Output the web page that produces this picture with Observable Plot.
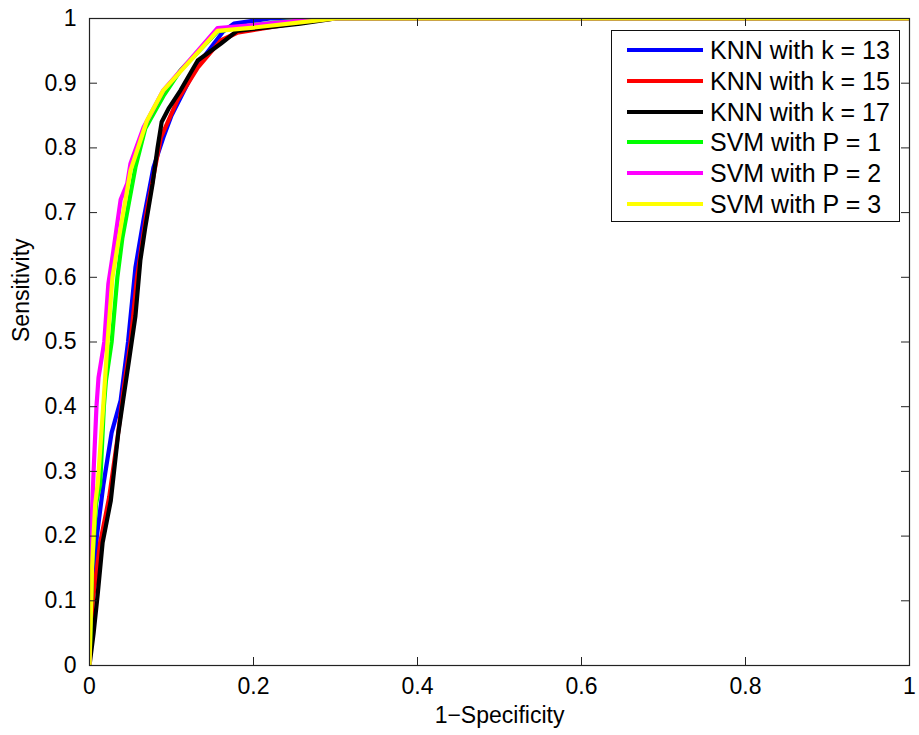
<!DOCTYPE html>
<html>
<head>
<meta charset="utf-8">
<script src="https://cdn.jsdelivr.net/npm/d3@7"></script>
<script src="https://cdn.jsdelivr.net/npm/@observablehq/plot@0.6"></script>
<style>
  html, body { margin: 0; padding: 0; background: #fff; }
  #wrap { position: relative; width: 919px; height: 735px; font-family: "Liberation Sans", Helvetica, Arial, sans-serif; }
  #legend { position: absolute; left: 611px; top: 30px; width: 289px; height: 192px; box-sizing: border-box;
            border: 1px solid #111; background: #fff; }
  .row { position: absolute; left: 0; height: 30px; width: 100%; }
  .swatch { position: absolute; left: 15px; width: 76px; height: 4px; }
  .lbl { position: absolute; left: 98px; font-size: 25px; line-height: 30px; top: 0; color: #000; white-space: nowrap; }
</style>
</head>
<body>
<div id="wrap"><div id="legend"></div></div>
<script>
const seriesNames = ["KNN with k = 13", "KNN with k = 15", "KNN with k = 17", "SVM with P = 1", "SVM with P = 2", "SVM with P = 3"];
const seriesColors = ["#0000ff", "#ff0000", "#000000", "#00ff00", "#ff00ff", "#ffff00"];
const xTicks = [0, 0.2, 0.4, 0.6, 0.8, 1];
const yTicks = [0, 0.1, 0.2, 0.3, 0.4, 0.5, 0.6, 0.7, 0.8, 0.9, 1];

// ROC curves: [1-specificity, sensitivity]
const knn13 = [[0,0],[0.003,0.1],[0.009,0.2],[0.017,0.28],[0.027,0.36],[0.038,0.41],[0.047,0.5],[0.056,0.615],[0.066,0.69],[0.078,0.77],[0.09,0.816],[0.1,0.85],[0.13,0.925],[0.163,0.98],[0.176,0.992],[0.22,1],[1,1]];
const knn15 = [[0,0],[0.004,0.1],[0.013,0.19],[0.024,0.26],[0.034,0.35],[0.042,0.43],[0.05,0.5],[0.058,0.6],[0.07,0.703],[0.087,0.816],[0.107,0.873],[0.132,0.924],[0.16,0.966],[0.18,0.978],[0.257,0.994],[0.3,1],[1,1]];
const knn17 = [[0,0],[0.005,0.05],[0.01,0.11],[0.016,0.19],[0.026,0.255],[0.035,0.358],[0.041,0.41],[0.048,0.47],[0.056,0.54],[0.062,0.626],[0.068,0.677],[0.077,0.745],[0.083,0.8],[0.088,0.84],[0.097,0.862],[0.111,0.889],[0.132,0.935],[0.16,0.961],[0.18,0.981],[0.257,0.992],[0.3,1],[1,1]];
const svm1 = [[0,0],[0.003,0.15],[0.008,0.25],[0.013,0.28],[0.0175,0.4],[0.02,0.44],[0.027,0.5],[0.034,0.6],[0.04,0.66],[0.056,0.77],[0.068,0.83],[0.09,0.88],[0.111,0.92],[0.13,0.945],[0.156,0.98],[0.2,0.99],[0.26,0.998],[0.3,1],[1,1]];
const svm2 = [[0,0],[0.002,0.2],[0.005,0.3],[0.0085,0.4],[0.011,0.445],[0.018,0.5],[0.023,0.59],[0.029,0.64],[0.038,0.72],[0.046,0.745],[0.05,0.776],[0.066,0.832],[0.09,0.889],[0.123,0.937],[0.156,0.985],[0.2,0.99],[0.26,0.997],[0.3,1],[1,1]];
const svm3 = [[0,0],[0.003,0.15],[0.007,0.25],[0.01,0.28],[0.0167,0.4],[0.022,0.5],[0.028,0.6],[0.038,0.677],[0.05,0.765],[0.07,0.842],[0.09,0.889],[0.123,0.935],[0.156,0.981],[0.2,0.986],[0.257,0.994],[0.3,1],[1,1]];

const curves = [knn13, knn15, knn17, svm1, svm2, svm3];
const table = curves.flatMap((c, i) => c.map(([x, y]) => ({series: seriesNames[i], x, y})));

const W = 919, H = 735, mL = 89, mR = 10, mT = 18, mB = 70;
const pw = W - mL - mR, ph = H - mT - mB;
const tick = 8;
const fmt = d => String(+d.toFixed(1));

const chart = Plot.plot({
  width: W, height: H,
  marginLeft: mL, marginRight: mR, marginTop: mT, marginBottom: mB,
  style: {fontFamily: "'Liberation Sans', Helvetica, Arial, sans-serif", background: "#fff", color: "#000"},
  x: {domain: [0, 1], axis: null},
  y: {domain: [0, 1], axis: null},
  color: {domain: seriesNames, range: seriesColors},
  marks: [
    Plot.line(table, {x: "x", y: "y", z: "series", stroke: "series", strokeWidth: 4.2, clip: true, strokeLinejoin: "round"}),
    Plot.frame({stroke: "#222", strokeWidth: 1.2}),
    Plot.tickX(xTicks, {x: d => d, insetTop: ph - tick, stroke: "#222"}),
    Plot.tickX(xTicks, {x: d => d, insetBottom: ph - tick, stroke: "#222"}),
    Plot.tickY(yTicks, {y: d => d, insetRight: pw - tick, stroke: "#222"}),
    Plot.tickY(yTicks, {y: d => d, insetLeft: pw - tick, stroke: "#222"}),
    Plot.axisX(xTicks, {tickSize: 0, tickPadding: 12, fontSize: 23, tickFormat: fmt, label: null}),
    Plot.axisY(yTicks, {tickSize: 0, tickPadding: 13, fontSize: 23, tickFormat: fmt, label: null}),
    Plot.text(["1\u2212Specificity"], {text: d => d, frameAnchor: "bottom", dy: 57, fontSize: 23}),
    Plot.text(["Sensitivity"], {text: d => d, frameAnchor: "left", dx: -68, rotate: -90, fontSize: 23})
  ]
});

const wrap = document.getElementById("wrap");
wrap.insertBefore(chart, wrap.firstChild);

const legend = document.getElementById("legend");
seriesNames.forEach((name, i) => {
  const row = document.createElement("div");
  row.className = "row";
  row.style.top = (4 + i * 30.8) + "px";
  const sw = document.createElement("div");
  sw.className = "swatch";
  sw.style.top = "13px";
  sw.style.background = seriesColors[i];
  const lb = document.createElement("div");
  lb.className = "lbl";
  lb.textContent = name;
  row.appendChild(sw);
  row.appendChild(lb);
  legend.appendChild(row);
});
</script>
</body>
</html>
